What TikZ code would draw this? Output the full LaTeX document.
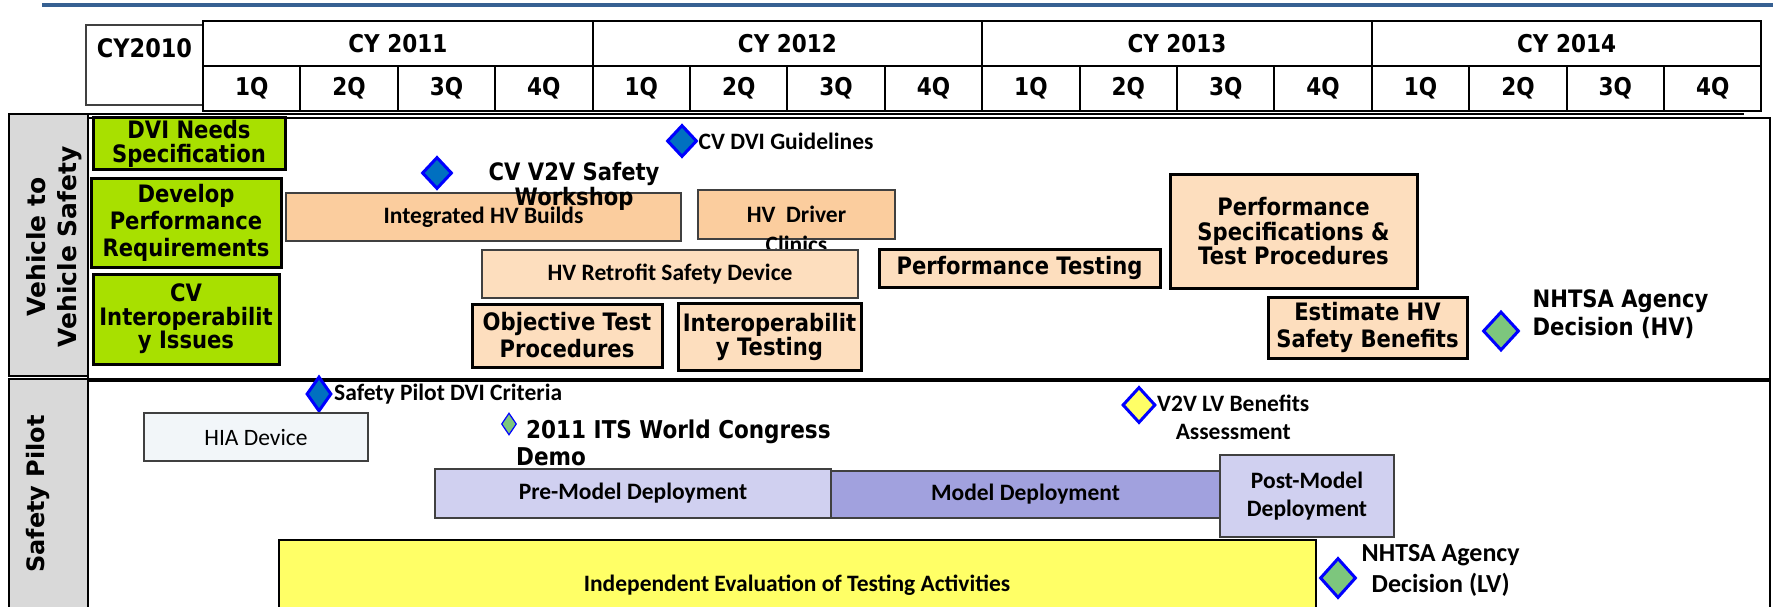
\documentclass[tikz,border=0pt]{standalone}
\usepackage{fontspec}
\usetikzlibrary{shapes.geometric}
\usetikzlibrary{positioning}

\newfontfamily\tahfont[FakeStretch=0.88]{DejaVu Sans}
\newfontfamily\verfont{DejaVu Sans}
\newfontfamily\calfont{Carlito}

\definecolor{hdrblue}{RGB}{54,96,146}
\definecolor{stripgrey}{RGB}{217,217,217}
\definecolor{boxgrey}{RGB}{64,64,64}
\definecolor{needgreen}{RGB}{168,224,0}
\definecolor{buildorange}{RGB}{251,205,158}
\definecolor{testpeach}{RGB}{253,222,190}
\definecolor{msblue}{RGB}{0,112,192}
\definecolor{msgreen}{RGB}{125,198,125}
\definecolor{msyellow}{RGB}{255,255,102}
\definecolor{hiafill}{RGB}{242,246,249}
\definecolor{premodel}{RGB}{208,208,240}
\definecolor{model}{RGB}{161,161,222}

\begin{document}
\begin{tikzpicture}[
        x=1pt, y=-1pt, line join=miter,
        tb/.style={font=\tahfont\bfseries\fontsize{24}{#1}\selectfont}, tb/.default=25,
        cb/.style={font=\calfont\bfseries\fontsize{23.5}{#1}\selectfont}, cb/.default=28,
        sz/.style 2 args={minimum width=#1, minimum height=#2},
        box/.style={draw, rectangle, inner sep=0pt, align=center},
        hcell/.style={box, line width=2pt,
            font=\tahfont\bfseries\fontsize{24.5}{25}\selectfont},
        needbox/.style={box, tb, fill=needgreen, line width=3pt},
        buildbox/.style={box, cb, fill=buildorange, draw=boxgrey, line width=2pt},
        testbox/.style={box, tb, fill=testpeach, line width=3pt},
        pilotbox/.style={box, cb, fill=premodel, draw=boxgrey, line width=2pt},
        mstone/.style={diamond, draw=blue, fill=msblue, line width=3pt, inner sep=0pt},
        lbl/.style={inner sep=0pt},
    ]
    \useasboundingbox (0,0) rectangle (1773,607);
    \clip (0,0) rectangle (1773,607);

    % header
    \draw[line width=4pt, hdrblue] (42,5) -- (1773,5);
    \node[draw=boxgrey, line width=1.5pt, sz={117}{80},
          label={[lbl, anchor=center, yshift=-24pt,
                  font=\tahfont\bfseries\fontsize{25.5}{26}\selectfont]north:CY2010}]
        (cy10) at (144.5,65) {};
    \foreach \yr [count=\i from 0] in {2011,2012,2013,2014}
        \node[hcell, sz={389.6}{44.5}] (yr\i) at ({397.8+389.6*\i},43.5) {CY \yr};
    \foreach \i in {0,...,15} {
        \pgfmathtruncatemacro\qn{mod(\i,4)+1}
        \node[hcell, sz={97.4}{44.5}] (q\i) at ({251.7+97.4*\i},88.5) {\qn Q};
    }
    \draw[line width=2pt] (88,114) -- (1744,114);

    % lanes
    \draw[line width=2.5pt, fill=stripgrey] (9,114) rectangle (88,376);
    \draw[line width=2.5pt, fill=stripgrey] (9,379) rectangle (88,700);
    \draw[line width=2.5pt] (88,118) rectangle (1770,379);
    \draw[line width=2.5pt] (88,381) rectangle (1770,700);
    \node[rotate=90, align=center, font=\verfont\bfseries\fontsize{25}{31}\selectfont]
        (v2vlab) at (54,247) {Vehicle to\\Vehicle Safety};
    \node[rotate=90, font=\verfont\bfseries\fontsize{24}{24}\selectfont]
        (splab) at (38,494) {Safety Pilot};

    % vehicle to vehicle safety
    \node[needbox, tb=24, sz={192}{52}] (gDVI) at (189,144) {DVI Needs\\Specification};
    \node[needbox, tb=27, sz={190}{88}] (gDev) at (186,223) {Develop\\Performance\\Requirements};
    \node[needbox, tb=23.5, sz={186}{90}] (gInt) at (186,319) {CV\\Interoperabilit\\y Issues};

    \node[buildbox, sz={395}{48}] (oBuild) at (483.5,217) {Integrated HV Builds};
    \node[mstone, sz={30}{32}] (dShop) at (437,173) {};
    \node[lbl, tb, align=center, right=35pt of dShop, yshift=-13pt] (lShop)
        {CV V2V Safety\\Workshop};
    \node[mstone, sz={30}{32}] (dGuide) at (682,141) {};
    \node[lbl, cb, right=0pt of dGuide] (lGuide) {CV DVI Guidelines};

    \node[buildbox, sz={197}{49},
          label={[lbl, cb, anchor=north, yshift=4pt]south:Clinics}]
        (oDriver) at (796.5,214.5) {HV~~Driver};
    \node[buildbox, fill=testpeach, sz={376}{48}] (oRetro) at (670,274) {HV Retrofit Safety Device};
    \node[testbox, tb=27, sz={190}{63}] (pObj) at (567,335.5) {Objective Test\\Procedures};
    \node[testbox, tb=24, sz={183}{67}] (pIop) at (769.5,336.5) {Interoperabilit\\y Testing};
    \node[testbox, sz={281}{38}] (pPT) at (1019.5,268) {Performance Testing};
    \node[testbox, tb=24.5, sz={247}{113}] (pSpec) at (1293.5,231.5)
        {Performance\\Specifications \&\\Test Procedures};
    \node[testbox, tb=27, sz={199}{61}] (pEst) at (1367.5,327.5) {Estimate HV\\Safety Benefits};
    \node[mstone, fill=msgreen, sz={36}{39}] (dHV) at (1501,331) {};
    \node[lbl, tb=28, align=left, right=12pt of dHV, yshift=17pt] (lHV)
        {NHTSA Agency\\Decision (HV)};

    % safety pilot
    \node[mstone, sz={25}{35}] (dCrit) at (319,394) {};
    \node[lbl, cb, right=1pt of dCrit] (lCrit) {Safety Pilot DVI Criteria};
    \node[box, draw=boxgrey, line width=2pt, fill=hiafill, sz={224}{48},
          font=\calfont\fontsize{23.5}{28}\selectfont] (sHIA) at (256,437) {HIA Device};
    \node[mstone, fill=msgreen, line width=1.2pt, sz={15}{22}] (dITS) at (509,424) {};
    \node[lbl, align=left, anchor=west, font=\tahfont\bfseries\fontsize{24.5}{27}\selectfont]
        (lITS) at (516,443) {\hspace*{10pt}2011 ITS World Congress\\Demo};
    \node[mstone, fill=msyellow, sz={33}{36}] (dLVB) at (1139,405) {};
    \node[lbl, align=center, right=0pt of dLVB, yshift=-12pt,
          font=\calfont\bfseries\fontsize{23.5}{28}\selectfont] (lLVB)
        {V2V LV Benefits\\Assessment};

    \node[pilotbox, sz={395.5}{49}] (sPre) at (633,493.5) {Pre-Model Deployment};
    \node[pilotbox, fill=model, sz={389}{47}] (sMod) at (1025.5,494.5) {Model Deployment};
    \node[pilotbox, sz={174}{82}] (sPost) at (1307,496) {Post-Model\\Deployment};

    \node[box, cb, fill=msyellow, line width=2pt, sz={1037}{90}] (sEval) at (797,585)
        {Independent Evaluation of Testing Activities};
    \node[mstone, fill=msgreen, sz={36}{40}] (dLV) at (1338,578) {};
    \node[lbl, align=center, right=4pt of dLV, yshift=8pt,
          font=\calfont\bfseries\fontsize{26}{31}\selectfont] (lLV)
        {NHTSA Agency\\Decision (LV)};
\end{tikzpicture}
\end{document}
